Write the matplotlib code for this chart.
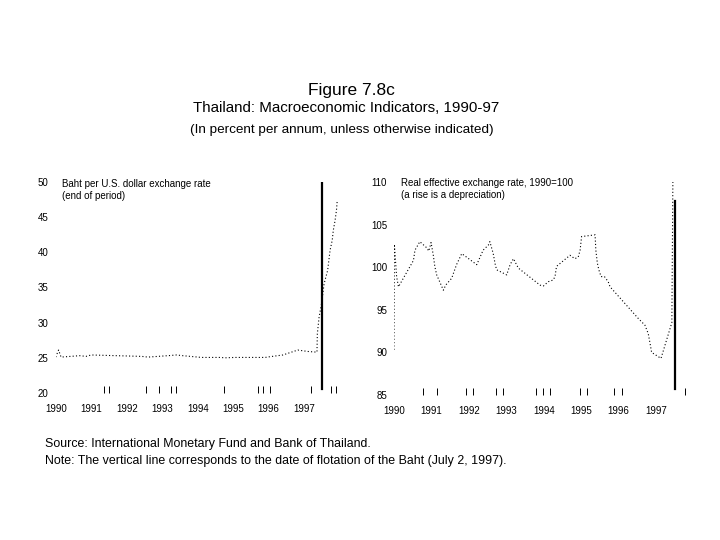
import matplotlib
matplotlib.use('Agg')
import matplotlib.pyplot as plt

plt.rcParams['font.family'] = ['Liberation Sans', 'DejaVu Sans']

# Baht per U.S. dollar (end of period), fractional years
baht_years = [1990.0, 1990.08, 1990.15, 1990.68, 1990.85, 1991.0, 1992.42, 1992.6,
              1993.16, 1993.4, 1993.58, 1994.11, 1994.63, 1994.77, 1995.05, 1995.52,
              1995.9, 1996.03, 1996.4, 1996.82, 1997.1, 1997.36, 1997.37, 1997.42,
              1997.49, 1997.56, 1997.66, 1997.73, 1997.79, 1997.82, 1997.87, 1997.91,
              1997.93]
baht_rate = [25.1, 26.1, 25.1, 25.3, 25.2, 25.4, 25.2, 25.1,
             25.3, 25.4, 25.3, 25.05, 25.05, 25.0, 25.05, 25.05,
             25.05, 25.15, 25.4, 26.1, 25.9, 25.8, 28.4, 30.8,
             32.7, 35.5, 37.4, 40.3, 41.7, 43.1, 44.5, 46.0,
             47.3]

# Real effective exchange rate, 1990=100 (a rise is a depreciation)
reer_years = [1990.0, 1990.01, 1990.07, 1990.12, 1990.52, 1990.56, 1990.69, 1990.87,
              1990.93, 1990.99, 1991.05, 1991.09, 1991.14, 1991.32, 1991.38, 1991.54,
              1991.67, 1991.81, 1992.21, 1992.38, 1992.52, 1992.56, 1992.65, 1992.70,
              1992.74, 1993.01, 1993.10, 1993.19, 1993.32, 1993.90, 1993.99, 1994.12,
              1994.25, 1994.30, 1994.34, 1994.70, 1994.83, 1994.92, 1994.97, 1995.01,
              1995.37, 1995.39, 1995.43, 1995.47, 1995.53, 1995.62, 1995.72, 1995.77,
              1996.52, 1996.70, 1996.79, 1996.84, 1996.88, 1997.13, 1997.42, 1997.46]
reer_index = [90.3, 102.7, 98.9, 97.7, 100.8, 102.0, 103.0, 102.3,
              101.9, 102.9, 101.4, 100.1, 99.1, 97.3, 97.9, 98.7,
              100.3, 101.6, 100.3, 102.0, 102.6, 103.0, 101.6, 100.4,
              99.7, 99.1, 100.3, 101.0, 99.9, 97.9, 97.8, 98.3,
              98.5, 98.9, 100.1, 101.4, 101.0, 101.2, 102.0, 103.6,
              103.8, 102.0, 100.5, 99.7, 98.9, 98.9, 98.3, 97.7,
              94.0, 93.2, 92.2, 91.0, 90.0, 89.3, 93.5, 118.0]

year_labels = ['1990', '1991', '1992', '1993', '1994', '1995', '1996', '1997']
year_ticks = [1990, 1991, 1992, 1993, 1994, 1995, 1996, 1997]
float_date = 1997.5  # July 2, 1997

left_minor = [1990.0, 1991.35, 1991.5, 1992.55, 1992.9, 1993.25, 1993.4, 1994.75,
              1995.7, 1995.85, 1996.05, 1997.0, 1997.2, 1997.75, 1997.9]
right_minor = [1990.78, 1991.16, 1991.92, 1992.10, 1992.72, 1992.90, 1993.79, 1993.97,
               1994.17, 1994.97, 1995.15, 1995.88, 1996.08, 1997.77]

fig = plt.figure(figsize=(7.2, 5.4), dpi=100)
fig.patch.set_facecolor('white')

ax1 = fig.add_axes([0.0774, 0.2722, 0.3944, 0.3913])
ax2 = fig.add_axes([0.5472, 0.2685, 0.4161, 0.3944])

line_style = dict(color='black', linewidth=0.8, linestyle=(0, (1, 2)))

ax1.plot(baht_years, baht_rate, **line_style)
ax1.set_xlim(1990, 1998)
ax1.set_ylim(20, 50)
ax1.set_yticks([20, 25, 30, 35, 40, 45, 50])
ax1.axvline(float_date, ymin=0.02, ymax=1.0, color='black', linewidth=1.6)

ax2.plot(reer_years, reer_index, **line_style)
ax2.set_xlim(1990, 1998)
ax2.set_ylim(85, 110)
ax2.set_yticks([85, 90, 95, 100, 105, 110])
ax2.axvline(float_date, ymin=0.03, ymax=0.91, color='black', linewidth=1.6)

for ax, minor in ((ax1, left_minor), (ax2, right_minor)):
    for s in ax.spines.values():
        s.set_visible(False)
    ax.set_xticks(year_ticks)
    ax.set_xticklabels(year_labels)
    ax.set_xticks(minor, minor=True)
    ax.tick_params(axis='x', which='major', length=0, pad=8, labelsize=7)
    ax.tick_params(axis='x', which='minor', direction='in', length=5, width=0.7)
    ax.tick_params(axis='y', length=0, pad=5, labelsize=7)
    ax.set_facecolor('white')

# panel notes
fig.text(62 / 720, 1 - 184 / 540, 'Baht per U.S. dollar exchange rate', fontsize=7, va='center')
fig.text(62 / 720, 1 - 196 / 540, '(end of period)', fontsize=7, va='center')
fig.text(401 / 720, 1 - 183 / 540, 'Real effective exchange rate, 1990=100', fontsize=7, va='center')
fig.text(401 / 720, 1 - 195 / 540, '(a rise is a depreciation)', fontsize=7, va='center')

# titles
fig.text(351 / 720, 1 - 90 / 540, 'Figure 7.8c', fontsize=12.5, ha='center', va='center')
fig.text(346 / 720, 1 - 108 / 540, 'Thailand: Macroeconomic Indicators, 1990-97',
         fontsize=10.9, ha='center', va='center')
fig.text(342 / 720, 1 - 130 / 540, '(In percent per annum, unless otherwise indicated)',
         fontsize=9.7, ha='center', va='center')

# footer
fig.text(45 / 720, 1 - 444 / 540, 'Source: International Monetary Fund and Bank of Thailand.',
         fontsize=8.9, va='center')
fig.text(45 / 720, 1 - 461 / 540,
         'Note: The vertical line corresponds to the date of flotation of the Baht (July 2, 1997).',
         fontsize=8.9, va='center')

fig.savefig('out.png', dpi=100, facecolor='white')
